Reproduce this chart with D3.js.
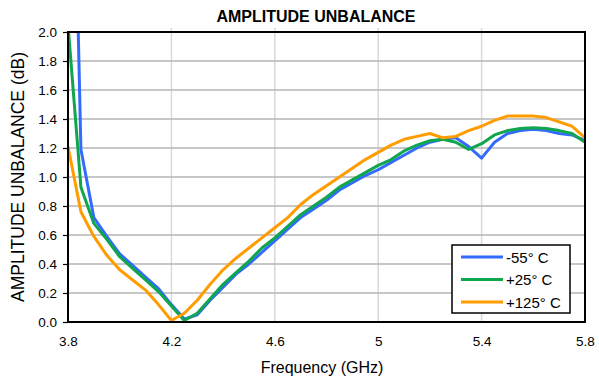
<!DOCTYPE html>
<html>
<head>
<meta charset="utf-8">
<script src="https://cdn.jsdelivr.net/npm/d3@7"></script>
<style>
  body { margin: 0; background: #fff; }
  text { font-family: "Liberation Sans", Arial, sans-serif; }
</style>
</head>
<body>
<script>
// frequency points, GHz
var freqs = [3.80, 3.85, 3.90, 3.95, 4.00, 4.05, 4.10, 4.15, 4.20, 4.25,
             4.30, 4.35, 4.40, 4.45, 4.50, 4.55, 4.60, 4.65, 4.70, 4.75,
             4.80, 4.85, 4.90, 4.95, 5.00, 5.05, 5.10, 5.15, 5.20, 5.25,
             5.30, 5.35, 5.40, 5.45, 5.50, 5.55, 5.60, 5.65, 5.70, 5.75, 5.80]

// amplitude unbalance, dB
var minus55 = [5.10, 1.19, 0.72, 0.59, 0.47, 0.39, 0.31, 0.23, 0.12, 0.02,
               0.05, 0.15, 0.24, 0.33, 0.40, 0.48, 0.56, 0.64, 0.72, 0.78,
               0.84, 0.91, 0.96, 1.01, 1.05, 1.10, 1.15, 1.20, 1.24, 1.26,
               1.27, 1.21, 1.13, 1.24, 1.30, 1.32, 1.33, 1.32, 1.30, 1.29, 1.25]
var plus25 = [2.05, 0.93, 0.68, 0.57, 0.45, 0.37, 0.29, 0.21, 0.11, 0.01,
              0.06, 0.16, 0.26, 0.34, 0.42, 0.51, 0.58, 0.66, 0.74, 0.80,
              0.86, 0.93, 0.98, 1.03, 1.08, 1.12, 1.18, 1.22, 1.25, 1.26,
              1.24, 1.19, 1.23, 1.29, 1.32, 1.335, 1.34, 1.335, 1.32, 1.30, 1.24]
var plus125 = [1.21, 0.76, 0.59, 0.46, 0.36, 0.29, 0.22, 0.12, 0.01, 0.06,
               0.15, 0.26, 0.36, 0.44, 0.51, 0.58, 0.65, 0.72, 0.81, 0.88,
               0.94, 1.00, 1.06, 1.12, 1.17, 1.22, 1.26, 1.28, 1.30, 1.27,
               1.28, 1.32, 1.35, 1.39, 1.42, 1.42, 1.42, 1.41, 1.38, 1.35, 1.27]

var xTicks = [3.8, 4.2, 4.6, 5, 5.4, 5.8]
var yTicks = [0, 0.2, 0.4, 0.6, 0.8, 1.0, 1.2, 1.4, 1.6, 1.8, 2.0]

var seriesNames = ['-55° C', '+25° C', '+125° C']
var seriesColors = ['#336bff', '#10a64e', '#ff9c00']

var width = 599,
    height = 379,
    margin = {top: 32, left: 68, right: 14, bottom: 57};

var svg = d3.select('body')
    .append('svg')
    .attr('width', width)
    .attr('height', height)

var escalaX = d3.scaleLinear()
    .domain([3.8, 5.8])
    .range([margin.left, width - margin.right])

var escalaY = d3.scaleLinear()
    .domain([0, 2])
    .range([height - margin.bottom, margin.top])

var x0 = escalaX.range()[0], x1 = escalaX.range()[1]
var y0 = escalaY.range()[0], y1 = escalaY.range()[1]

// gridlines
svg.append('g')
    .selectAll('line')
    .data(xTicks.slice(1, -1)).enter()
    .append('line')
    .attr('x1', d => escalaX(d)).attr('x2', d => escalaX(d))
    .attr('y1', y1 - 4).attr('y2', y0)
    .attr('stroke', '#d9d9d9')
    .attr('stroke-width', 1.5)

svg.append('g')
    .selectAll('line')
    .data(yTicks.slice(1, -1)).enter()
    .append('line')
    .attr('x1', x0).attr('x2', x1)
    .attr('y1', d => escalaY(d)).attr('y2', d => escalaY(d))
    .attr('stroke', '#b4b4b4')
    .attr('stroke-width', 1.5)

// axes
var ejeY = d3.axisLeft(escalaY)
    .tickValues(yTicks)
    .tickFormat(d3.format('.1f'))
    .tickSize(5)
    .tickPadding(6)

var ejeX = d3.axisBottom(escalaX)
    .tickValues(xTicks)
    .tickFormat(d => d)
    .tickSize(0)
    .tickPadding(14)

var gy = svg.append('g')
    .attr('transform', 'translate(' + x0 + ',0)')
    .call(ejeY)
gy.select('.domain').remove()
gy.selectAll('line').attr('stroke', '#000').attr('stroke-width', 1.2)
gy.selectAll('text').attr('font-size', 13.5).attr('fill', '#000')

var gx = svg.append('g')
    .attr('transform', 'translate(0,' + y0 + ')')
    .call(ejeX)
gx.select('.domain').remove()
gx.selectAll('text').attr('font-size', 13.5).attr('fill', '#000')

// data lines
svg.append('clipPath')
    .attr('id', 'plot')
    .append('rect')
    .attr('x', x0).attr('y', y1)
    .attr('width', x1 - x0).attr('height', y0 - y1)

var linea = d3.line()
    .x((d, i) => escalaX(freqs[i]))
    .y(d => escalaY(d))

var series = [minus55, plus25, plus125]

svg.append('g')
    .attr('clip-path', 'url(#plot)')
    .selectAll('path')
    .data(series).enter()
    .append('path')
    .attr('d', d => linea(d))
    .attr('fill', 'none')
    .attr('stroke', (d, i) => seriesColors[i])
    .attr('stroke-width', 3)
    .attr('stroke-linejoin', 'round')

// frame
svg.append('rect')
    .attr('x', x0).attr('y', y1)
    .attr('width', x1 - x0).attr('height', y0 - y1)
    .attr('fill', 'none')
    .attr('stroke', '#000')
    .attr('stroke-width', 2)

// legend
var leg = svg.append('g')
    .attr('transform', 'translate(452,245)')

leg.append('rect')
    .attr('width', 118).attr('height', 68)
    .attr('fill', '#fff')
    .attr('stroke', '#000')
    .attr('stroke-width', 1.5)

var items = leg.selectAll('g')
    .data(seriesNames).enter()
    .append('g')
    .attr('transform', (d, i) => 'translate(0,' + (12 + i * 22.5) + ')')

items.append('line')
    .attr('x1', 9).attr('x2', 51)
    .attr('stroke', (d, i) => seriesColors[i])
    .attr('stroke-width', 3)

items.append('text')
    .attr('x', 54)
    .attr('y', 5.5)
    .attr('font-size', 15)
    .text(d => d)

// titles
svg.append('text')
    .attr('x', 316).attr('y', 22)
    .attr('text-anchor', 'middle')
    .attr('font-size', 16)
    .attr('font-weight', 'bold')
    .text('AMPLITUDE UNBALANCE')

svg.append('text')
    .attr('x', 322).attr('y', 373)
    .attr('text-anchor', 'middle')
    .attr('font-size', 16)
    .text('Frequency (GHz)')

svg.append('text')
    .attr('transform', 'translate(24,' + ((y0 + y1) / 2) + ') rotate(-90)')
    .attr('text-anchor', 'middle')
    .attr('font-size', 17.5)
    .text('AMPLITUDE UNBALANCE (dB)')
</script>
</body>
</html>
